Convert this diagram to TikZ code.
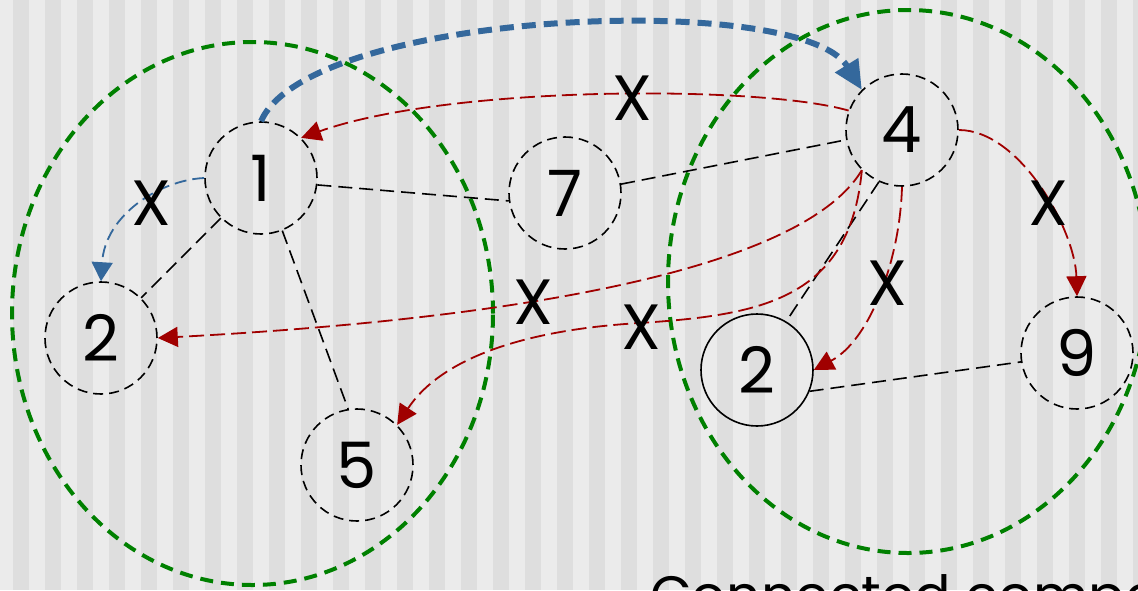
\documentclass[tikz,border=0pt]{standalone}
\usepackage{fontspec}
\setmainfont{Poppins}
\usetikzlibrary{arrows.meta}
\definecolor{bgl}{RGB}{235,235,235}
\definecolor{bgd}{RGB}{222,222,222}
\definecolor{grn}{RGB}{0,128,0}
\definecolor{blu}{RGB}{52,104,156}
\definecolor{rd}{RGB}{160,0,0}
\begin{document}
\begin{tikzpicture}[x=1pt,y=-1pt,
  vert/.style={circle, draw=black, line width=1.6pt, dash pattern=on 10pt off 6pt,
    minimum size=112pt, inner sep=0pt, font=\fontsize{64}{70}\selectfont},
  solidvert/.style={vert, solid},
  edgeline/.style={draw=black, line width=1.6pt, dash pattern=on 14pt off 7pt},
  ccomp/.style={draw=grn, line width=4pt, dash pattern=on 13pt off 8pt},
  redarr/.style={draw=rd, line width=1.8pt, dash pattern=on 15pt off 6pt,
    -{Triangle[length=20pt,width=20pt]}},
  bluethin/.style={draw=blu, line width=1.8pt, dash pattern=on 12pt off 6pt,
    -{Triangle[length=19pt,width=21pt]}},
  bluethick/.style={draw=blu, line width=6pt, dash pattern=on 14pt off 8pt,
    -{Triangle[length=29pt,width=26pt]}},
  lbl/.style={inner sep=0pt, font=\fontsize{64}{70}\selectfont},
]
\useasboundingbox (0,0) rectangle (1138,590);
\clip (0,0) rectangle (1138,590);
\fill[bgl] (0,0) rectangle (1138,590);
\foreach \i in {0,...,35} {
  \fill[bgd] ({13+32*\i},0) rectangle ({29+32*\i},590);
}
% connected components
\draw[ccomp] (252.5,313.5) ellipse [x radius=240.5pt, y radius=271.5pt];
\draw[ccomp] (908,281.5) ellipse [x radius=240pt, y radius=271.5pt];
% vertices
\node[vert] (n1) at (261,178) {1};
\node[vert] (n7) at (565,193) {7};
\node[vert] (n4) at (902,130) {4};
\node[vert] (n2l) at (101,338) {2};
\node[vert] (n5) at (357,465) {5};
\node[solidvert] (n2r) at (757,370) {2};
\node[vert] (n9) at (1077,353) {9};
% undirected edges
\draw[edgeline] (n1.-7) -- (n7.188);
\draw[edgeline] (n7.9) -- (n4.190);
\draw[edgeline] (n1.225) -- (n2l.45);
\draw[edgeline] (n1.-68) -- (n5.99);
\draw[edgeline] (n4.246) -- (n2r.59);
\draw[edgeline] (n2r.-22) -- (n9.189);
% arrows
\draw[bluethick] (n1.north) .. controls (310,10) and (800,-10) .. (n4.135);
\draw[bluethin] (n1.west) .. controls (160,180) and (105,215) .. (n2l.north);
\draw[redarr] (n4.160) .. controls (760,85) and (450,85) .. (n1.45);
\draw[redarr] (n4.east) .. controls (1020,130) and (1075,230) .. (n9.north);
\draw[redarr] (n4.south) .. controls (900,260) and (870,340) .. (n2r.east);
\draw[redarr] (n4.225) .. controls (790,290) and (400,325) .. (n2l.east);
\coordinate (m5) at (640,323);
\draw[redarr] (n4.225) .. controls (850,300) and (760,315) .. (m5)
  .. controls (520,330) and (440,360) .. (n5.45);
% labels
\node[lbl] (x1) at (151,203) {X};
\node[lbl] (x2) at (632,98) {X};
\node[lbl] (x3) at (1048,203) {X};
\node[lbl] (x4) at (887,283) {X};
\node[lbl] (x5) at (533,302) {X};
\node[lbl] (x6) at (641,327) {X};
\node[anchor=base west, inner sep=0pt, font=\fontsize{54}{60}\selectfont] (cap) at (650,614) {Connected components};
\end{tikzpicture}
\end{document}
